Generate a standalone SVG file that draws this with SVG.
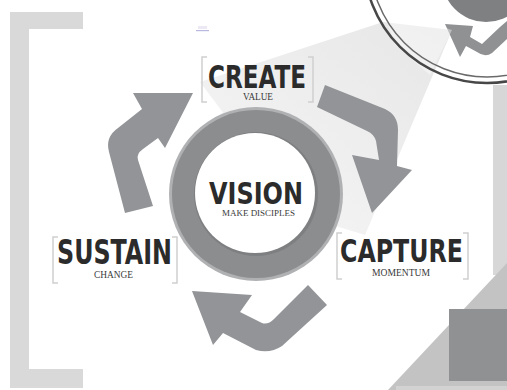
<svg xmlns="http://www.w3.org/2000/svg" width="507" height="390" viewBox="0 0 507 390">
<defs>
<style>
.title{font-family:"Liberation Sans Narrow","DejaVu Sans Condensed","Liberation Sans",sans-serif;font-weight:bold;fill:#2b2b2b}
.sub{font-family:"Liberation Serif","DejaVu Serif",serif;fill:#3a3a3a}
.brk{fill:none;stroke:#cfcfcf;stroke-width:1.5}
.arrow{fill:#929497}
</style>
<linearGradient id="beam" x1="1" y1="0" x2="0" y2="1">
<stop offset="0" stop-color="#e6e6e6"/>
<stop offset="1" stop-color="#f7f7f7"/>
</linearGradient>
</defs>
<rect width="507" height="390" fill="#ffffff"/>
<!-- light beam -->
<polygon points="383,22 452,30 365,235 300,215 200,82" fill="url(#beam)"/>
<!-- top-right lens -->
<g id="lens">
<circle cx="486" cy="-22" r="44" fill="#7f8082"/>
<path d="M445,24 L473,26 L470,37 L482,44 L500,27 L507,21 L507,39 L492,53 Q485,58 477,52 L466,46 L460,57 Z" fill="#8f9193"/>
<polygon points="383,10 420,20 452,30 430,75 395,45" fill="#ffffff" opacity="0.4"/>
<circle cx="487" cy="-40" r="117" fill="none" stroke="#6a6a6a" stroke-width="1.5"/>
<circle cx="487" cy="-40" r="123" fill="none" stroke="#474747" stroke-width="2.5"/>
</g>
<!-- frame decorations -->
<path d="M10,12 H83 V29 H29 V369 H83 V388 H10 Z" fill="#d9d9d9"/>
<rect x="493" y="85" width="14" height="190" fill="#d7d7d7"/>
<polygon points="388,390 507,263 507,390" fill="#c3c3c3"/>
<rect x="449" y="309" width="58" height="72" fill="#8f9193"/>
<rect x="396" y="386" width="111" height="4" fill="#d2d2d2"/>
<!-- tiny logo -->
<rect x="196" y="30" width="13" height="1.2" fill="#b8b8e0"/>
<rect x="198" y="26" width="9" height="3" fill="#ece8f4"/>
<!-- connectors -->
<g id="connectors">
<path class="arrow" d="M125,213 L109,152 Q105,137 118,128 L142,109 L133,93 L193,93 L165,148 L158,138 L143,149 Q136,154 138,160 L153,206 Z"/>
<path class="arrow" d="M325,85 L385,109 Q398,115 398,130 L397,166 L412,170 L372,213 L352,155 L379,160 L376,141 Q374,134 367,131 L317,107 Z"/>
<path class="arrow" d="M327,305 L282,346 Q270,354 256,350 L223,333 L213,345 L192,291 L252,295 L240,312 L262,323 Q268,325 274,319 L308,285 Z"/>
</g>
<!-- VISION -->
<g id="node-vision">
<circle cx="256" cy="194" r="87" fill="#b0b1b3"/>
<circle cx="256" cy="194" r="84" fill="#8c8d8f"/>
<circle cx="256" cy="194" r="62" fill="#7e7f81"/>
<circle cx="255" cy="193" r="60" fill="#ffffff"/>
<text class="title" x="209" y="204" font-size="31" textLength="94" lengthAdjust="spacingAndGlyphs">VISION</text>
<text class="sub" x="222" y="216" font-size="9" textLength="73" lengthAdjust="spacingAndGlyphs">MAKE DISCIPLES</text>
</g>
<!-- CREATE -->
<g id="node-create">
<path class="brk" d="M207,57 H202 V102 H207 M308,57 H313 V102 H308"/>
<text class="title" x="208" y="88" font-size="32" textLength="98" lengthAdjust="spacingAndGlyphs">CREATE</text>
<text class="sub" x="243" y="100" font-size="9.5" textLength="30" lengthAdjust="spacingAndGlyphs">VALUE</text>
</g>
<!-- SUSTAIN -->
<g id="node-sustain">
<path class="brk" d="M58,237 H53 V283 H58 M172,237 H177 V283 H172"/>
<text class="title" x="57" y="264" font-size="33" textLength="115" lengthAdjust="spacingAndGlyphs">SUSTAIN</text>
<text class="sub" x="94" y="278" font-size="9.5" textLength="39" lengthAdjust="spacingAndGlyphs">CHANGE</text>
</g>
<!-- CAPTURE -->
<g id="node-capture">
<path class="brk" d="M342,233 H337 V279 H342 M463,233 H468 V279 H463"/>
<text class="title" x="340" y="262" font-size="32" textLength="123" lengthAdjust="spacingAndGlyphs">CAPTURE</text>
<text class="sub" x="372" y="276" font-size="9.5" textLength="58" lengthAdjust="spacingAndGlyphs">MOMENTUM</text>
</g>
</svg>
